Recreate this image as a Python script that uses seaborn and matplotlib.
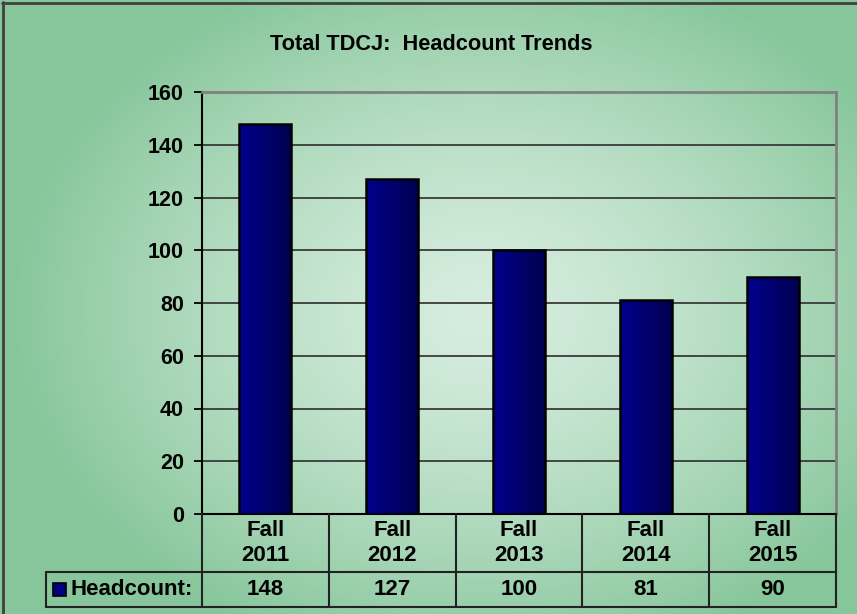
import numpy as np
import pandas as pd
import matplotlib
matplotlib.use("Agg")
import matplotlib.pyplot as plt
import seaborn as sns
from matplotlib.colors import LinearSegmentedColormap
from matplotlib.patches import Rectangle
from matplotlib.lines import Line2D

categories = ["Fall\n2011", "Fall\n2012", "Fall\n2013", "Fall\n2014", "Fall\n2015"]
values = [148, 127, 100, 81, 90]
series_name = "Headcount:"
title = "Total TDCJ:  Headcount Trends"
yticks = [0, 20, 40, 60, 80, 100, 120, 140, 160]

sns.set_theme(style="white")
plt.rcParams["font.family"] = ["Liberation Sans", "DejaVu Sans"]
plt.rcParams["font.weight"] = "bold"
plt.rcParams["text.color"] = "black"
plt.rcParams["ytick.color"] = "black"
plt.rcParams["ytick.labelcolor"] = "black"

W, H = 857, 614
fig = plt.figure(figsize=(W / 100, H / 100), dpi=100)

# background radial gradient
bg = fig.add_axes([0, 0, 1, 1], zorder=0)
yy, xx = np.mgrid[0:H, 0:W]
cx, cy = 480, 310
r = np.sqrt(((xx - cx) / 470.0) ** 2 + ((yy - cy) / 360.0) ** 2)
r = np.clip(r, 0, 1) ** 1.4
c_in = np.array([214, 237, 222]) / 255
c_out = np.array([135, 198, 155]) / 255
img = c_in[None, None, :] * (1 - r[..., None]) + c_out[None, None, :] * r[..., None]
bg.imshow(img, extent=[0, W, H, 0], aspect="auto")
bg.set_xlim(0, W); bg.set_ylim(H, 0)
bg.axis("off")
bg.add_line(Line2D([2, W], [3, 3], color="#404040", lw=2))
bg.add_line(Line2D([3, 3], [2, H], color="#404040", lw=2))

# plot area: x 202..836, y 92..514
L, R, T, B = 202, 836, 92, 514
ax = fig.add_axes([L / W, 1 - B / H, (R - L) / W, (B - T) / H], zorder=2)
ax.patch.set_alpha(0)

df = pd.DataFrame({"cat": categories, "val": values})
sns.barplot(data=df, x="cat", y="val", ax=ax, color="#000080", width=0.41,
            edgecolor="black", linewidth=1.8, saturation=1, zorder=3)

cmap = LinearSegmentedColormap.from_list("bar", ["#00008c", "#000050"])
grad = np.linspace(0, 1, 64)[None, :]
for p in ax.patches:
    x0, y0 = p.get_x(), p.get_y()
    w, h = p.get_width(), p.get_height()
    im = ax.imshow(grad, cmap=cmap, extent=[x0, x0 + w, y0, y0 + h],
                   aspect="auto", zorder=3.5, interpolation="bilinear")
    im.set_clip_path(p)
    p.set_facecolor("none")
    p.set_zorder(4)

ax.set_xlim(-0.5, len(categories) - 0.5)
ax.set_ylim(0, 160)
ax.set_yticks(yticks)
ax.set_yticklabels([str(t) for t in yticks], fontsize=15.5, fontweight="bold",
                   color="black")
ax.set_xticks([])
ax.set_xlabel(""); ax.set_ylabel("")
for t in yticks[1:-1]:
    ax.axhline(t, color="#3a3a3a", lw=1.3, zorder=1)
ax.tick_params(axis="y", length=6, width=1.3, color="black", pad=7, left=True)
ax.spines["left"].set_color("black"); ax.spines["left"].set_linewidth(1.5)
ax.spines["bottom"].set_color("black"); ax.spines["bottom"].set_linewidth(1.5)
ax.spines["top"].set_color("#808080"); ax.spines["top"].set_linewidth(2)
ax.spines["right"].set_color("#808080"); ax.spines["right"].set_linewidth(2)

fig.text(431 / W, 1 - 44 / H, title, ha="center", va="center",
         fontsize=15.7, fontweight="bold", color="black")

# data table below axes
trans = ax.get_xaxis_transform()
ph = B - T
r1 = -(572 - B) / ph
r2 = -(607 - B) / ph
left_ax = -(L - 46) / (R - L)
n = len(categories)
lc = "#222222"
kw = dict(color=lc, lw=1.5, clip_on=False, zorder=5)
for i in range(n + 1):
    ax.add_line(Line2D([i - 0.5, i - 0.5], [0, r2], transform=trans, **kw))
ax.add_line(Line2D([left_ax, 1], [r1, r1], transform=ax.transAxes, **kw))
ax.add_line(Line2D([left_ax, 1], [r2, r2], transform=ax.transAxes, **kw))
ax.add_line(Line2D([left_ax, left_ax], [r1, r2], transform=ax.transAxes, **kw))
for i, (c, v) in enumerate(zip(categories, values)):
    ax.text(i, r1 / 2, c, transform=trans, ha="center", va="center",
            fontsize=16, fontweight="bold", linespacing=1.3, clip_on=False)
    ax.text(i, (r1 + r2) / 2, str(v), transform=trans, ha="center", va="center",
            fontsize=16, fontweight="bold", clip_on=False)
# legend key + label
kx = left_ax + 7 / (R - L)
ks = 13
ax.add_patch(Rectangle((kx, (r1 + r2) / 2 - ks / 2 / ph), ks / (R - L), ks / ph,
                       transform=ax.transAxes, facecolor="#000080",
                       edgecolor="black", lw=1.2, clip_on=False, zorder=6))
ax.text(left_ax + 25 / (R - L), (r1 + r2) / 2, series_name, transform=ax.transAxes,
        ha="left", va="center", fontsize=16, fontweight="bold", clip_on=False)

fig.savefig("out.png", dpi=100)
